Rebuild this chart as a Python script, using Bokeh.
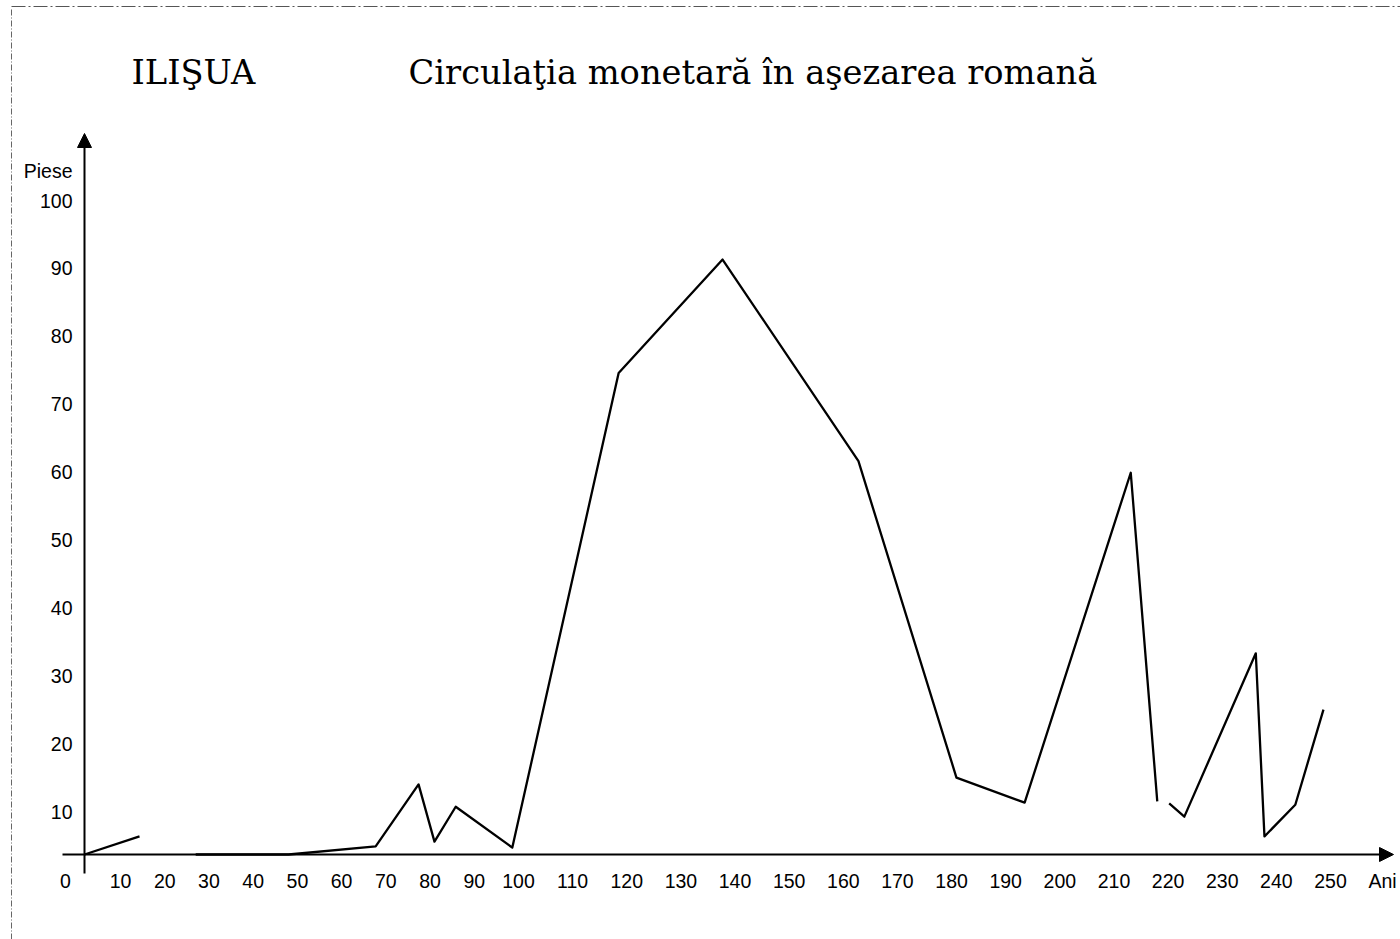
import numpy as np
from bokeh.plotting import figure
from bokeh.models import Range1d, Arrow, NormalHead, ColumnDataSource
from bokeh.core.properties import value
from bokeh.embed import file_html
from bokeh.resources import INLINE

# ---------------- data ----------------
title_left = "ILIŞUA"
title_main = "Circulaţia monetară în aşezarea romană"
x_title = "Ani"
y_title = "Piese"

# three separate drawn stretches of the curve (years, pieces)
seg1_years = [0, 14.3]
seg1_values = [0, 4.2]

seg2_years = [27, 48, 67.7, 77.4, 81.0, 85.8, 98.6, 118.5, 137.7, 162.8,
              180.9, 193.5, 213.1, 218.0]
seg2_values = [0, 0, 1.9, 14.0, 3.0, 10.7, 1.6, 74.6, 91.3, 61.6,
               15.0, 11.3, 59.9, 11.5]

seg3_years = [220.2, 223.0, 236.2, 237.8, 243.5, 248.7]
seg3_values = [11.2, 8.8, 33.3, 4.2, 11.0, 25.0]

x_ticks = [10, 20, 30, 40, 50, 60, 70, 80, 90, 100, 110, 120, 130, 140, 150,
           160, 170, 180, 190, 200, 210, 220, 230, 240, 250]
y_ticks = [10, 20, 30, 40, 50, 60, 70, 80, 90, 100]

# ---------------- scale (piecewise, as in the hand-drawn original) ----------------
X_KNOTS_YEARS = [0, 10, 100, 250]
X_KNOTS_PX = [84, 120, 518, 1330]
Y_KNOTS_VAL = [0, 10, 100]
Y_KNOTS_PX = [854, 811, 200]


def sx(v):
    return list(np.interp(v, X_KNOTS_YEARS, X_KNOTS_PX))


def sy(v):
    return list(np.interp(v, Y_KNOTS_VAL, Y_KNOTS_PX))


W, H = 1400, 939
p = figure(width=W, height=H, x_range=Range1d(0, W), y_range=Range1d(H, 0),
           output_backend="svg", toolbar_location=None, min_border=0,
           x_axis_type=None, y_axis_type=None, outline_line_color=None,
           background_fill_color="white", border_fill_color="white")

# scan edge lines
p.line([11, 11], [9, H], line_color="#666666", line_width=1, line_dash="6 2 1 2")
p.line([11, W], [6, 6], line_color="#555555", line_width=1.2, line_dash="14 3 2 3")

x0 = sx([0])[0]
y0 = sy([0])[0]

# axes with arrows
head = dict(size=14, fill_color="black", line_color="black")
p.add_layout(Arrow(end=NormalHead(**head), x_start=62, y_start=y0, x_end=1393, y_end=y0,
                   line_width=2, line_color="black"))
p.add_layout(Arrow(end=NormalHead(**head), x_start=x0, y_start=873, x_end=x0, y_end=133,
                   line_width=2, line_color="black"))

# data curve
p.multi_line(xs=[sx(seg1_years), sx(seg2_years), sx(seg3_years)],
             ys=[sy(seg1_values), sy(seg2_values), sy(seg3_values)],
             line_color="black", line_width=2.3, line_join="round")

lab_font = value("Liberation Sans")
lab_size = "19.5px"

# x tick labels
xsrc = ColumnDataSource(dict(x=sx(x_ticks), y=[880] * len(x_ticks), t=[str(v) for v in x_ticks]))
p.text(x="x", y="y", text="t", source=xsrc, text_font=lab_font, text_font_size=lab_size,
       text_align="center", text_baseline="middle", text_color="black")

# y tick labels
ysrc = ColumnDataSource(dict(x=[72] * len(y_ticks), y=sy(y_ticks), t=[str(v) for v in y_ticks]))
p.text(x="x", y="y", text="t", source=ysrc, text_font=lab_font, text_font_size=lab_size,
       text_align="right", text_baseline="middle", text_color="black")

# axis captions and origin
p.text(x=[65], y=[880], text=["0"], text_font=lab_font, text_font_size=lab_size,
       text_align="center", text_baseline="middle", text_color="black")
p.text(x=[1368], y=[880], text=[x_title], text_font=lab_font, text_font_size=lab_size,
       text_align="left", text_baseline="middle", text_color="black")
p.text(x=[72], y=[170], text=[y_title], text_font=lab_font, text_font_size=lab_size,
       text_align="right", text_baseline="middle", text_color="black")

# titles
p.text(x=[131], y=[72], text=[title_left], text_font=value("DejaVu Serif"),
       text_font_size="33.7px", text_align="left", text_baseline="middle", text_color="black")
p.text(x=[408], y=[72], text=[title_main], text_font=value("DejaVu Serif"),
       text_font_size="33.7px", text_align="left", text_baseline="middle", text_color="black")

open("out.html", "w").write(file_html(p, INLINE))
